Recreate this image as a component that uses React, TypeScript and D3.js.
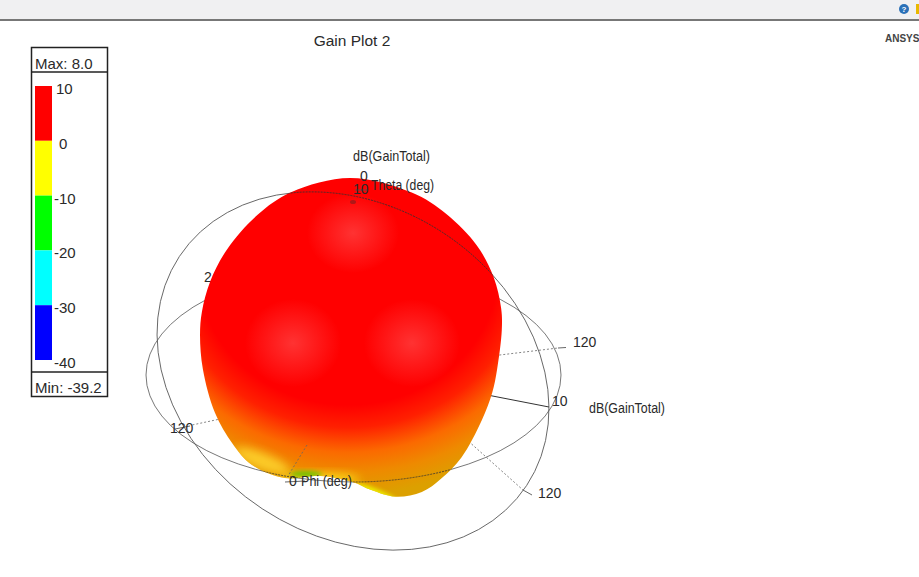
/**
 * HFSS-style 3D polar gain plot, flattened: one radial outline for the lobe,
 * shaded with gradients, plus the grid ellipses and axis labels on top.
 */
import * as d3 from 'd3';

const LEGEND_TICKS = [10, 0, -10, -20, -30, -40];
const LEGEND_COLORS = ['#ff0000', '#ffff00', '#00ff00', '#00ffff', '#0000ff'];

// lobe outline: view angle (deg, clockwise from top) -> gain in dB
const LOBE_ANGLE = [0, 23, 38, 54, 67, 79, 87, 102, 111, 122, 137, 147, 155, 164, 172, 179, 192, 205, 218, 228, 241, 258, 271, 280, 292, 306, 323, 338];
const LOBE_GAIN = [0, -0.5, -0.75, -0.75, -1, -1.5, -2, -2.4, -1.9, -1.15, 0.85, 1.9, 2.5, 1.3, -1.6, -4, -4.75, -1.4, 0.1, -0.5, -1.4, -2.4, -2.5, -2.4, -2.3, -2.1, -1.5, -0.7];

const FONT = '"Liberation Sans", Arial, sans-serif';
const TEXT = '#2a2a2a';
const GRID = '#555';

const CX = 350;
const CY = 338;

function GridEllipses({ dashed }: { dashed: boolean }) {
  const dash = dashed ? '2 1' : undefined;
  const stroke = dashed ? '#333' : GRID;
  return (
    <>
      <ellipse
        cx={353}
        cy={371}
        rx={208}
        ry={165}
        transform="rotate(33.4 353 371)"
        fill="none"
        stroke={stroke}
        strokeWidth={0.8}
        strokeDasharray={dash}
      />
      <ellipse
        cx={353.5}
        cy={375}
        rx={207.5}
        ry={107}
        fill="none"
        stroke={stroke}
        strokeWidth={0.8}
        strokeDasharray={dash}
        clipPath={dashed ? 'url(#frontHalf)' : undefined}
      />
    </>
  );
}

export default function App() {
  const legendY = d3.scaleLinear().domain([10, -40]).range([86, 360]);
  const radius = d3.scaleLinear().domain([-40, 10]).range([0, 200]);

  const lobe = d3.lineRadial<number>()
    .angle(d => (LOBE_ANGLE[d] * Math.PI) / 180)
    .radius(d => radius(LOBE_GAIN[d]))
    .curve(d3.curveCatmullRomClosed.alpha(0.5));
  const lobePath = lobe(d3.range(LOBE_ANGLE.length)) ?? '';

  return (
    <svg
      width={919}
      height={577}
      style={{ position: 'absolute', left: 0, top: 0, background: '#fff', fontFamily: FONT }}
    >
      <defs>
        <radialGradient
          id="body"
          gradientUnits="userSpaceOnUse"
          cx={0}
          cy={0}
          r={1}
          gradientTransform={`translate(${348 - CX},${270 - CY}) scale(250,225)`}
        >
          <stop offset="0%" stopColor="#ff0000" />
          <stop offset="60%" stopColor="#ff0000" />
          <stop offset="70%" stopColor="#ff2000" />
          <stop offset="81%" stopColor="#fb6a00" />
          <stop offset="90%" stopColor="#ee8a00" />
          <stop offset="100%" stopColor="#dca000" />
        </radialGradient>
        <radialGradient id="spot">
          <stop offset="0%" stopColor="#ff4848" stopOpacity={0.7} />
          <stop offset="100%" stopColor="#ff4848" stopOpacity={0} />
        </radialGradient>
        <filter id="soft" x="-50%" y="-50%" width="200%" height="200%">
          <feGaussianBlur stdDeviation={5} />
        </filter>
        <filter id="softer" x="-50%" y="-50%" width="200%" height="200%">
          <feGaussianBlur stdDeviation={2} />
        </filter>
        <clipPath id="lobeClip">
          <path d={lobePath} transform={`translate(${CX},${CY})`} />
        </clipPath>
        <clipPath id="frontHalf">
          <rect x={100} y={375} width={500} height={120} />
        </clipPath>
      </defs>

      {/* window chrome */}
      <rect x={0} y={0} width={919} height={20} fill="#f0f0f2" />
      <rect x={0} y={19} width={919} height={2} fill="#777" />
      <circle cx={904} cy={9} r={5} fill="#2a70b8" />
      <text x={904} y={12} fontSize={8} fontWeight="bold" fill="#fff" textAnchor="middle">?</text>
      <rect x={916} y={4} width={3} height={10} fill="#e8b800" />
      <text x={885} y={42} fontSize={10} fontWeight="bold" fill="#444">ANSYS</text>

      <text x={352} y={46} fontSize={15.5} fill={TEXT} textAnchor="middle">Gain Plot 2</text>

      {/* legend */}
      <rect x={31.5} y={47.5} width={76} height={349} fill="#fff" stroke="#222" strokeWidth={1.5} />
      <line x1={31} x2={108} y1={72} y2={72} stroke="#222" strokeWidth={1.5} />
      <line x1={31} x2={108} y1={372} y2={372} stroke="#222" strokeWidth={1.5} />
      <text x={35} y={69} fontSize={15} fill={TEXT}>Max: 8.0</text>
      <text x={35} y={393} fontSize={15} fill={TEXT}>Min: -39.2</text>
      {LEGEND_COLORS.map((c, i) => (
        <rect
          key={c}
          x={35}
          width={17}
          y={legendY(LEGEND_TICKS[i])}
          height={legendY(LEGEND_TICKS[i + 1]) - legendY(LEGEND_TICKS[i])}
          fill={c}
        />
      ))}
      {LEGEND_TICKS.map(t => (
        <text
          key={t}
          x={t === 0 ? 59 : t === 10 ? 56 : 54}
          y={legendY(t) + 8}
          fontSize={15}
          fill={TEXT}
        >
          {t}
        </text>
      ))}

      {/* things behind the lobe */}
      <text x={204} y={282} fontSize={14} fill={TEXT}>2</text>
      <GridEllipses dashed={false} />
      <line x1={400} y1={367} x2={558} y2={348} stroke="#666" strokeWidth={0.8} strokeDasharray="2 2" />
      <line x1={558} y1={348} x2={566} y2={347.5} stroke={GRID} strokeWidth={0.9} />
      <line x1={400} y1={378} x2={549} y2={407} stroke="#333" strokeWidth={1} />
      <line x1={400} y1={380} x2={523} y2={490} stroke="#666" strokeWidth={0.8} strokeDasharray="2 2" />
      <line x1={523} y1={490} x2={532} y2={495} stroke={GRID} strokeWidth={0.9} />
      <line x1={300} y1={402} x2={192} y2={425} stroke="#666" strokeWidth={0.8} strokeDasharray="2 2" />

      {/* lobe */}
      <path d={lobePath} transform={`translate(${CX},${CY})`} fill="url(#body)" />
      <g clipPath="url(#lobeClip)">
        <ellipse cx={353} cy={233} rx={46} ry={40} fill="url(#spot)" />
        <ellipse cx={293} cy={343} rx={48} ry={44} fill="url(#spot)" />
        <ellipse cx={412} cy={343} rx={48} ry={44} fill="url(#spot)" />
        <ellipse cx={262} cy={461} rx={30} ry={8} fill="#ffd830" opacity={0.85} transform="rotate(22 262 461)" filter="url(#soft)" />
        <ellipse cx={320} cy={479} rx={40} ry={6} fill="#ffe820" opacity={0.8} filter="url(#soft)" />
        <ellipse cx={306} cy={474} rx={16} ry={3} fill="#70c000" filter="url(#softer)" />
        <ellipse cx={378} cy={494} rx={24} ry={4} fill="#eef000" transform="rotate(24 378 494)" filter="url(#softer)" />
        {/* the grid shows dotted where it crosses the lobe */}
        <GridEllipses dashed />
      </g>

      <line x1={307} y1={445} x2={288} y2={476} stroke="#666" strokeWidth={0.8} strokeDasharray="2 2" />
      <line x1={285} y1={482} x2={305} y2={481} stroke={GRID} strokeWidth={0.9} />
      <line x1={355} y1={190} x2={368} y2={190} stroke={GRID} strokeWidth={0.9} />
      <line x1={175} y1={429} x2={190} y2={426} stroke={GRID} strokeWidth={0.9} />
      <ellipse cx={353} cy={202} rx={3} ry={2} fill="#7a2020" opacity={0.6} />

      {/* axis labels */}
      <text x={353} y={161} fontSize={14} fill={TEXT} textLength={77} lengthAdjust="spacingAndGlyphs">dB(GainTotal)</text>
      <text x={360} y={181} fontSize={14} fill={TEXT}>0</text>
      <text x={353} y={194} fontSize={14} fill={TEXT}>10</text>
      <text x={371} y={190} fontSize={14} fill={TEXT} textLength={63} lengthAdjust="spacingAndGlyphs">Theta (deg)</text>
      <text x={573} y={347} fontSize={14} fill={TEXT}>120</text>
      <text x={552} y={406} fontSize={14} fill={TEXT}>10</text>
      <text x={589} y={413} fontSize={14} fill={TEXT} textLength={76} lengthAdjust="spacingAndGlyphs">dB(GainTotal)</text>
      <text x={538} y={498} fontSize={14} fill={TEXT}>120</text>
      <text x={170} y={433} fontSize={14} fill={TEXT}>120</text>
      <text x={289} y={486} fontSize={14} fill={TEXT}>0</text>
      <text x={301} y={486} fontSize={14} fill={TEXT} textLength={51} lengthAdjust="spacingAndGlyphs">Phi (deg)</text>
    </svg>
  );
}
